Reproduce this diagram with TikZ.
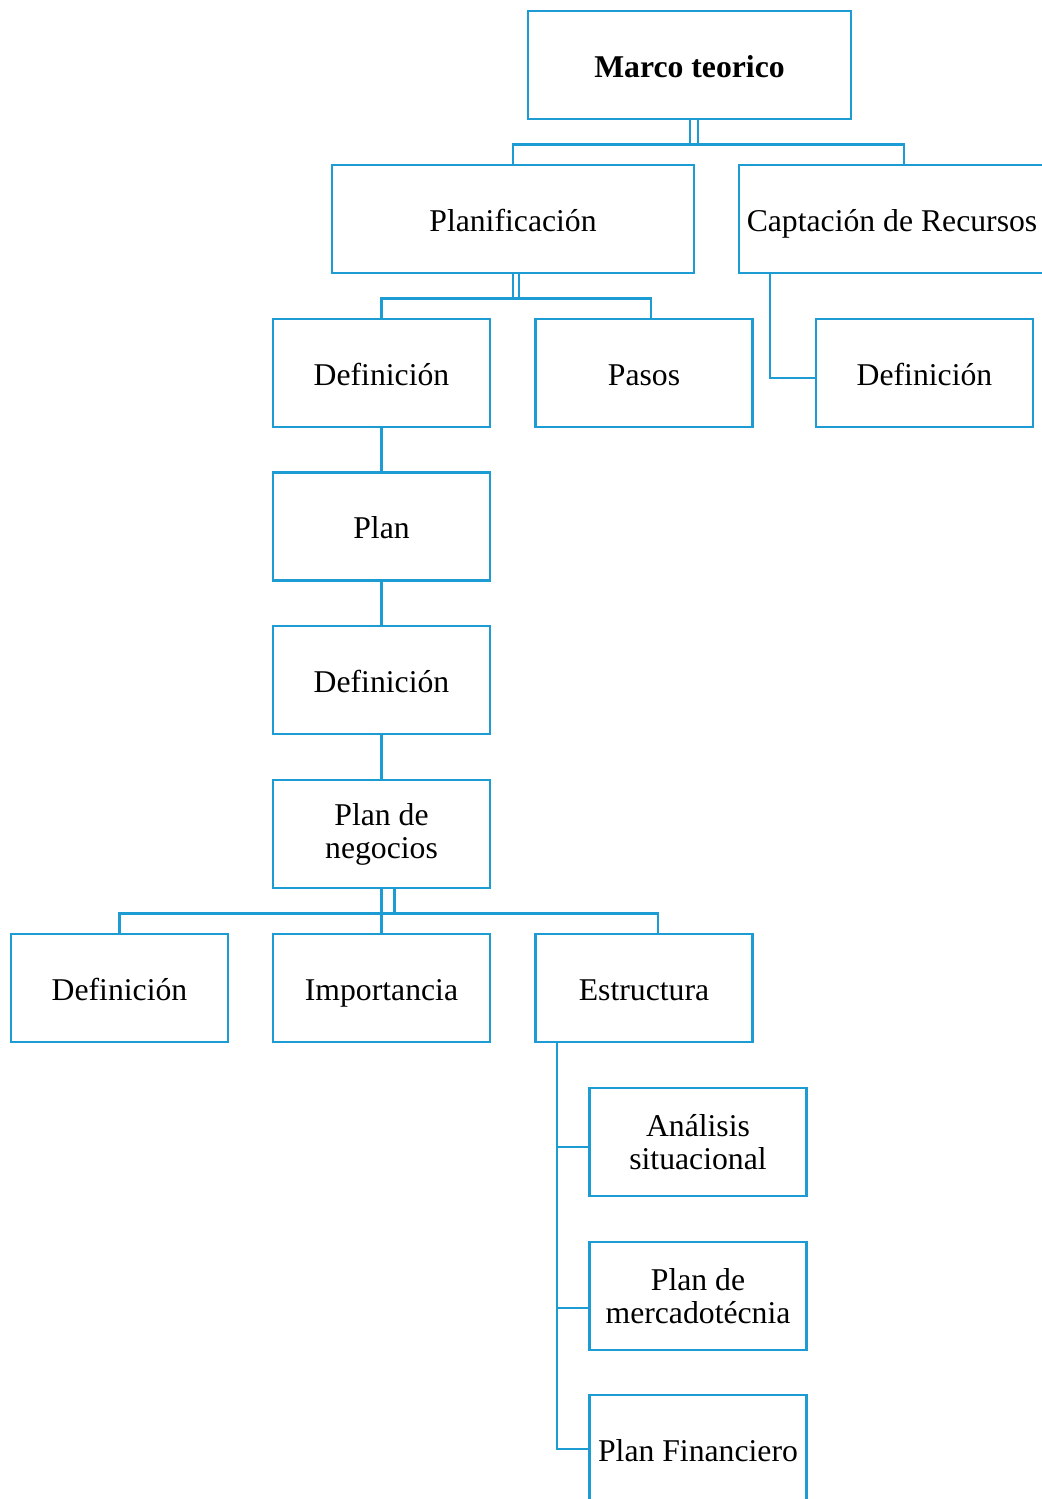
\documentclass[tikz,border=0pt]{standalone}
\usepackage{fontspec}
\setmainfont{Liberation Serif}
\usetikzlibrary{calc}
\definecolor{boxblue}{RGB}{28,156,210}
\begin{document}
\begin{tikzpicture}[x=0.5pt,y=-0.5pt,
  box/.style={draw=boxblue,line width=1.25pt,rectangle,inner sep=0pt,
    minimum width=108.5pt,minimum height=54pt,align=center,
    font=\fontsize{15.85}{16.5}\selectfont},
  one/.style={box,text height=15.5pt,text depth=3.5pt},
  conn/.style={draw=boxblue,line width=1.25pt}]
\useasboundingbox (0,0) rectangle (1042,1499);
\clip (0,0) rectangle (1042,1499);
\fill[white] (0,0) rectangle (1042,1499);

\node[one,minimum width=161.5pt,font=\fontsize{15.85}{16.5}\selectfont\bfseries] (marco) at (689.5,65) {Marco teorico};
\node[one,minimum width=181pt] (planif) at (513,219) {Planificación};
\node[one,minimum width=165pt] (capt) at (904,219) {Captación de Recursos\hspace*{12pt}};
\node[one] (defA) at (381.5,373) {Definición};
\node[one] (pasos) at (644,373) {Pasos};
\node[one] (defC) at (924.5,373) {Definición};
\node[one] (plan) at (381.5,526.5) {Plan};
\node[one] (defB) at (381.5,680) {Definición};
\node[box] (negocios) at (381.5,834) {Plan de\\negocios};
\node[one] (defD) at (119.5,988) {Definición};
\node[one] (import) at (381.5,988) {Importancia};
\node[one] (estr) at (644,988) {Estructura};
\node[box] (anal) at (698,1142) {Análisis\\situacional};
\node[box] (merc) at (698,1296) {Plan de\\mercadotécnia};
\node[one] (fin) at (698,1449) {Plan Financiero};

% Marco teorico
\draw[conn] (planif.north) |- ($(marco.south)+(0.5,24)$) -| (capt.north);
\draw[conn] ($(marco.south)+(0.5,0)$) -- ++(0,24);
\draw[conn] ($(marco.south)+(8.5,0)$) -- ++(0,24);

% Planificacion
\draw[conn] (defA.north) |- ($(planif.south)+(0,24)$) -| ($(pasos.north)+(7,0)$);
\draw[conn] (planif.south) -- ++(0,24);
\draw[conn] ($(planif.south)+(6,0)$) -- ++(0,24);

% Captacion
\draw[conn] ($(capt.south)+(-134,0)$) |- ($(defC.west)+(0,5)$);

% chain
\draw[conn] (defA.south) -- (plan.north);
\draw[conn] (plan.south) -- (defB.north);
\draw[conn] (defB.south) -- (negocios.north);

% Plan de negocios
\draw[conn] (defD.north) |- ($(negocios.south)+(0,24)$) -| ($(estr.north)+(14,0)$);
\draw[conn] (negocios.south) -- (import.north);
\draw[conn] ($(negocios.south)+(13,0)$) -- ++(0,24);

% Estructura
\coordinate (estrA) at ($(estr.south west)+(22.5,0)$);
\draw[conn] (estrA) |- (fin.west);
\draw[conn] ($(anal.west)+(0,5)$) -- ($(anal.west)+(-32.5,5)$);
\draw[conn] ($(merc.west)+(0,12)$) -- ($(merc.west)+(-32.5,12)$);
\end{tikzpicture}
\end{document}
